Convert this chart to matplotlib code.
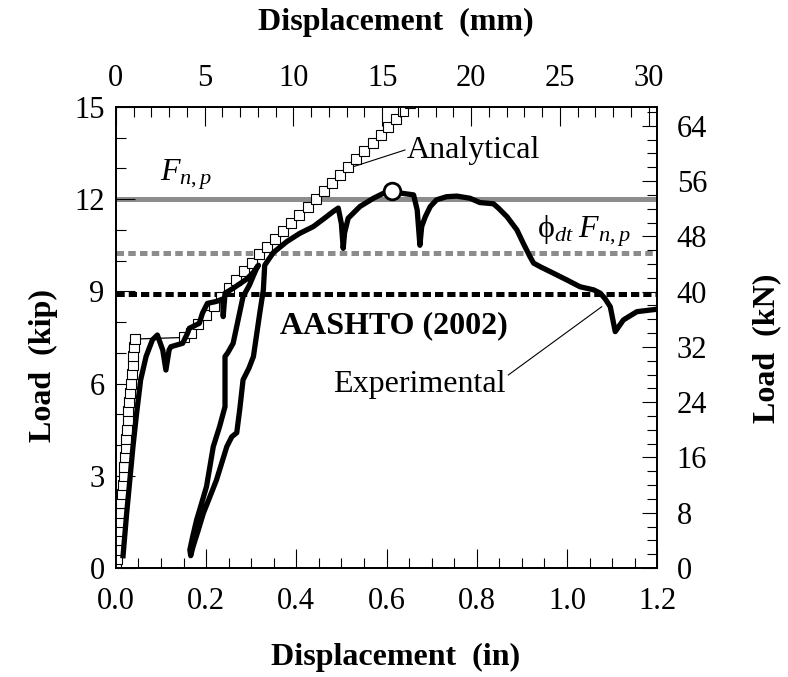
import matplotlib
matplotlib.use("Agg")
import matplotlib.pyplot as plt
from matplotlib.ticker import MultipleLocator

plt.rcParams['font.family'] = ['Liberation Serif', 'DejaVu Serif']
plt.rcParams['mathtext.fontset'] = 'custom'
plt.rcParams['mathtext.rm'] = 'Liberation Serif'
plt.rcParams['mathtext.it'] = 'Liberation Serif:italic'

# analytical curve: initial elastic part, flat jump, second branch
ana1_x = [0.000, 0.003, 0.004, 0.006, 0.007, 0.009, 0.010, 0.012, 0.013, 0.015,
          0.017, 0.018, 0.020, 0.022, 0.023, 0.025, 0.027, 0.028, 0.030, 0.032,
          0.034, 0.035, 0.037, 0.039, 0.041, 0.043]
ana1_y = [0.00, 0.30, 0.60, 0.90, 1.20, 1.50, 1.80, 2.10, 2.40, 2.70,
          3.00, 3.30, 3.60, 3.90, 4.20, 4.50, 4.80, 5.10, 5.40, 5.70,
          6.00, 6.30, 6.60, 6.90, 7.20, 7.45]
jump_x = [0.043, 0.150]
jump_y = [7.45, 7.50]
ana2_x = [0.150, 0.166, 0.183, 0.200, 0.217, 0.234, 0.250, 0.267, 0.284, 0.301,
          0.318, 0.336, 0.353, 0.371, 0.389, 0.407, 0.425, 0.443, 0.461, 0.479,
          0.497, 0.515, 0.533, 0.551, 0.569, 0.587, 0.604, 0.621, 0.637, 0.652]
ana2_y = [7.50, 7.66, 7.94, 8.23, 8.53, 8.81, 9.10, 9.38, 9.66, 9.93,
          10.20, 10.46, 10.72, 10.98, 11.24, 11.50, 11.76, 12.02, 12.28, 12.54,
          12.80, 13.06, 13.32, 13.58, 13.84, 14.10, 14.36, 14.62, 14.88, 15.14]

# experimental curve (loading, unload, reload, continue)
exp_x = [0.016, 0.024, 0.031, 0.038, 0.046, 0.055, 0.067, 0.081, 0.092, 0.104,
         0.111, 0.118, 0.122, 0.148, 0.159, 0.163, 0.185, 0.192, 0.203, 0.222,
         0.237, 0.238, 0.242, 0.260, 0.275, 0.290, 0.305, 0.316,
         0.312, 0.296, 0.282, 0.260, 0.248, 0.242, 0.242, 0.230, 0.216, 0.201,
         0.190, 0.179, 0.170, 0.164, 0.166,
         0.171, 0.182, 0.194, 0.208, 0.223, 0.246, 0.257, 0.268, 0.275, 0.282,
         0.295, 0.305, 0.319, 0.327, 0.330,
         0.349, 0.379, 0.408, 0.438, 0.467, 0.482, 0.493, 0.500, 0.504, 0.507,
         0.515, 0.541, 0.571, 0.593, 0.612, 0.630, 0.660, 0.668, 0.674, 0.678,
         0.686, 0.697, 0.711, 0.733, 0.756, 0.785, 0.807, 0.837, 0.848, 0.867,
         0.889, 0.903, 0.918, 0.926, 0.941, 0.970, 1.000, 1.029, 1.059, 1.074,
         1.085, 1.096, 1.107, 1.125, 1.155, 1.200]
exp_y = [0.40, 1.78, 2.86, 3.95, 5.03, 6.12, 6.88, 7.42, 7.58, 7.09,
         6.44, 7.09, 7.20, 7.31, 7.64, 7.80, 7.96, 8.29, 8.61, 8.67,
         8.75, 8.18, 8.94, 9.10, 9.25, 9.40, 9.62, 9.85,
         9.75, 9.20, 8.83, 7.31, 7.00, 6.88, 5.25, 4.60, 3.95, 2.65,
         2.10, 1.56, 1.00, 0.59, 0.40,
         0.69, 1.20, 1.78, 2.30, 2.86, 3.95, 4.27, 4.40, 5.20, 6.12,
         6.50, 6.88, 8.29, 9.05, 9.85,
         10.26, 10.62, 10.89, 11.11, 11.43, 11.60, 11.71, 11.20, 10.40, 10.90,
         11.38, 11.76, 12.03, 12.19, 12.25, 12.20, 12.14, 11.65, 10.50, 11.11,
         11.43, 11.76, 11.98, 12.08, 12.10, 12.03, 11.89, 11.85, 11.71, 11.43,
         11.00, 10.57, 10.13, 9.92, 9.80, 9.59, 9.37, 9.15, 9.05, 8.94,
         8.75, 8.50, 7.69, 8.07, 8.34, 8.42]
peak_x, peak_y = 0.613, 12.27

Fnp = 12.0
phi_Fnp = 10.25
aashto = 8.9

KN_PER_KIP = 4.448
MM_PER_IN = 25.4

fig = plt.figure(figsize=(7.88, 6.77), dpi=100)
ax = fig.add_axes([0.147, 0.161, 0.687, 0.681])

ax.axhline(Fnp, color='#8c8c8c', lw=3.6, zorder=1)
ax.axhline(phi_Fnp, color='#8c8c8c', lw=3.6, dashes=(1.5, 0.85), zorder=1)
ax.axhline(aashto, color='black', lw=3.6, dashes=(1.65, 0.8), zorder=1)

ax.plot(jump_x, jump_y, color='black', lw=0.9, zorder=2)
ax.plot(ana1_x, ana1_y, color='black', lw=0.9, marker='s', ms=6.5,
        mfc='white', mec='black', mew=0.8, zorder=3)
ax.plot(ana2_x, ana2_y, color='black', lw=0.9, marker='s', ms=6.5,
        mfc='white', mec='black', mew=0.8, zorder=3)
ax.plot(exp_x, exp_y, color='black', lw=3.8, solid_joinstyle='round', zorder=4)
ax.plot([peak_x], [peak_y], 'o', ms=12, mfc='white', mec='black', mew=2, zorder=5)

# annotations
ax.plot([0.527, 0.641], [13.06, 13.6], color='black', lw=0.8, zorder=3)
ax.text(0.645, 13.33, 'Analytical', fontsize=23, va='baseline', ha='left')
ax.plot([0.870, 1.077], [6.28, 8.50], color='black', lw=0.8, zorder=3)
ax.text(0.482, 5.74, 'Experimental', fontsize=23, va='baseline', ha='left')
ax.text(0.364, 7.64, 'AASHTO (2002)', fontsize=23, fontweight='bold',
        va='baseline', ha='left')
ax.text(0.097, 12.6, r'$F_{n,p}$', fontsize=23, va='baseline', ha='left')
ax.text(0.933, 10.74, r'ϕ$_{dt}\;F_{n,p}$', fontsize=23, va='baseline', ha='left')

ax.set_xlim(0, 1.2)
ax.set_ylim(0, 15)
ax.xaxis.set_major_locator(MultipleLocator(0.2))
ax.xaxis.set_minor_locator(MultipleLocator(0.05))
ax.yaxis.set_major_locator(MultipleLocator(3))
ax.yaxis.set_minor_locator(MultipleLocator(1))
ax.set_xticklabels(['%.1f' % v for v in ax.get_xticks()])
ax.tick_params(which='both', direction='in', top=False, right=False,
               labelsize=22, width=0.8)
ax.tick_params(which='major', length=14)
ax.tick_params(which='minor', length=7)
ax.tick_params(axis='x', pad=14)
ax.tick_params(axis='y', pad=8)

axr = ax.twinx()
axr.set_ylim(0, 15 * KN_PER_KIP)
axr.yaxis.set_major_locator(MultipleLocator(8))
axr.yaxis.set_minor_locator(MultipleLocator(2))
axr.tick_params(which='both', direction='in', labelsize=22, width=0.8, pad=14)
axr.tick_params(which='major', length=11)
axr.tick_params(which='minor', length=7)

axt = ax.twiny()
axt.set_xlim(0, 1.2 * MM_PER_IN)
axt.xaxis.set_major_locator(MultipleLocator(5))
axt.xaxis.set_minor_locator(MultipleLocator(1))
axt.tick_params(which='both', direction='in', labelsize=22, width=0.8, pad=10)
axt.tick_params(which='major', length=14)
axt.tick_params(which='minor', length=7)

for a in (ax, axr, axt):
    for s in a.spines.values():
        s.set_linewidth(1.1)

fig.text(396 / 788, 1 - 657 / 677, 'Displacement  (in)', fontsize=23,
         fontweight='bold', ha='center', va='center')
fig.text(396 / 788, 1 - 22 / 677, 'Displacement  (mm)', fontsize=23,
         fontweight='bold', ha='center', va='center')
fig.text(43 / 788, 1 - 366 / 677, 'Load  (kip)', fontsize=23,
         fontweight='bold', ha='center', va='center', rotation=90)
fig.text(767 / 788, 1 - 348 / 677, 'Load  (kN)', fontsize=23,
         fontweight='bold', ha='center', va='center', rotation=90)

fig.savefig('out.png', dpi=100)
